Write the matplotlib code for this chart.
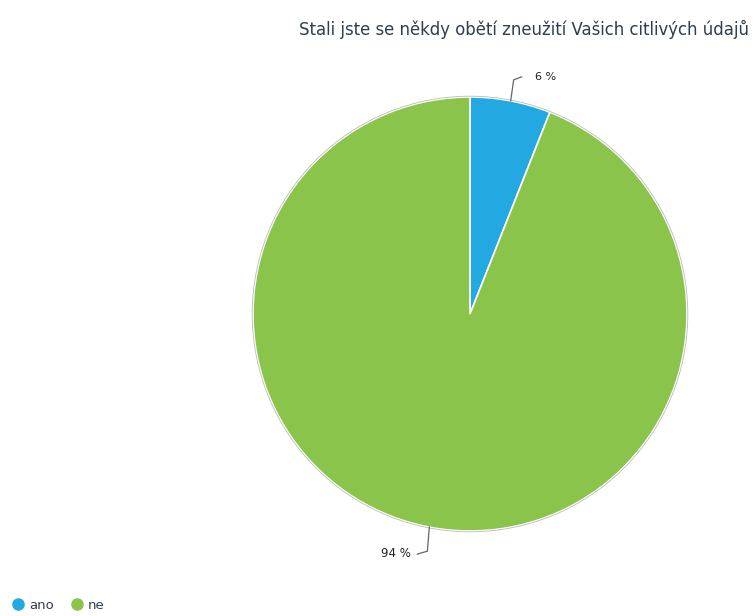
import numpy as np
import matplotlib.pyplot as plt
from matplotlib.lines import Line2D

title = "Stali jste se někdy obětí zneužití Vašich citlivých údajů"
labels = ["ano", "ne"]
shares = [6, 94]
colors = ["#22a9e1", "#8bc44a"]

W, H = 756, 616
fig = plt.figure(figsize=(W / 100, H / 100), dpi=100)
ax = fig.add_axes([0, 0, 1, 1])

cx, cy, r = 470, H - 314, 217
wedges, _ = ax.pie(shares, colors=colors, startangle=90, counterclock=False,
                   center=(cx, cy), radius=r, frame=True,
                   wedgeprops=dict(edgecolor="white", linewidth=1.2))
ax.add_patch(plt.Circle((cx, cy), r + 0.8, fill=False, edgecolor="#bbbbbb", lw=0.6))
ax.set_xlim(0, W)
ax.set_ylim(0, H)
ax.set_aspect("equal")
ax.axis("off")

# leader lines + percentage labels
for w, v in zip(wedges, shares):
    ang = np.deg2rad((w.theta1 + w.theta2) / 2)
    x0, y0 = cx + r * np.cos(ang), cy + r * np.sin(ang)
    up = np.sin(ang) > 0
    if up:
        x1, y1 = x0 + 3, y0 + 21
        x2, y2 = x1 + 8, y1 + 3
        ax.plot([x0, x1, x2], [y0, y1, y2], color="#666666", lw=0.9)
        ax.text(x2 + 13, y2, f"{v} %", fontsize=8, ha="left", va="center", color="#222222")
    else:
        x1, y1 = x0 - 2, y0 - 24
        x2, y2 = x1 - 10, y1 - 3
        ax.plot([x0, x1, x2], [y0, y1, y2], color="#666666", lw=0.9)
        ax.text(x2 - 6, y2 + 1, f"{v} %", fontsize=8.5, ha="right", va="center", color="#222222")

fig.text(299 / W, 1 - 29 / H, title, fontsize=11.9, color="#2e3d4f",
         ha="left", va="center")

handles = [Line2D([], [], marker="o", ls="", markersize=8, markerfacecolor=c,
                  markeredgecolor=c) for c in colors]
fig.legend(handles, labels, loc="lower left", bbox_to_anchor=(-0.002, -0.012), ncol=2,
           frameon=False, fontsize=9.5, handletextpad=0.2, columnspacing=1.2,
           labelcolor="#2e3d4f", handlelength=1.2)

fig.savefig("out.png", dpi=100)
